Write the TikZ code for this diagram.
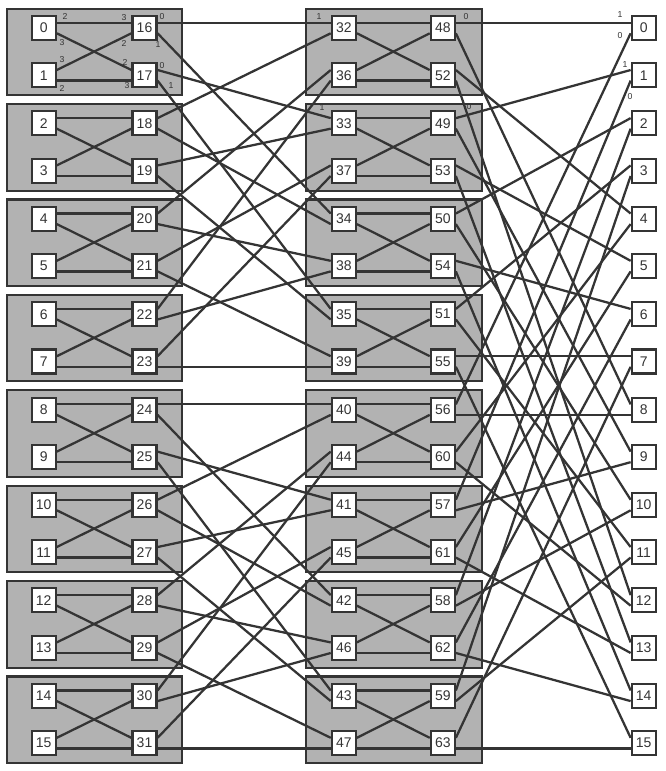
\documentclass[tikz,border=0pt]{standalone}
\usepackage{fontspec}
\setmainfont{Liberation Sans}
\definecolor{ink}{RGB}{52,52,52}
\definecolor{shade}{RGB}{178,178,178}
\begin{document}
\begin{tikzpicture}[x=0.75pt,y=-0.75pt,
  nd/.style={draw=ink, line width=1.6pt, fill=white, minimum size=18pt, inner sep=0pt, text=ink, font=\fontsize{10.5}{12}\selectfont},
  grp/.style={draw=ink, line width=1.6pt, fill=shade},
  wire/.style={draw=ink, line width=1.7pt},
  pl/.style={font=\fontsize{6.5}{7}\selectfont, text=ink, inner sep=0pt}]
\fill[white] (0,0) rectangle (665,771);
\useasboundingbox (0,0) rectangle (665,771);

% gray groups
\foreach \k in {0,...,7} {
  \pgfmathsetmacro\topy{8.7+95.4*\k}
  \pgfmathsetmacro\boty{\topy+86.5}
  \draw[grp] (6.7,\topy) rectangle (181.7,\boty);
  \draw[grp] (306,\topy) rectangle (482,\boty);
}

% nodes
\foreach \r in {0,...,15} {
  \pgfmathsetmacro\yy{28+95.4*floor(\r/2)+47.3*mod(\r,2)}
  \pgfmathtruncatemacro\s{16+\r}
  \pgfmathtruncatemacro\kk{floor(\r/2)}
  \pgfmathtruncatemacro\m{32+8*floor(\kk/4)+mod(\kk,4)+4*mod(\r,2)}
  \pgfmathtruncatemacro\mm{\m+16}
  \node[nd] (t\r) at (43.7,\yy) {\r};
  \node[nd] (n\s) at (144.5,\yy) {\s};
  \node[nd] (n\m) at (343.8,\yy) {\m};
  \node[nd] (n\mm) at (442.8,\yy) {\mm};
  \node[nd] (o\r) at (643.7,\yy) {\r};
}

% stage 0: terminals to first switches
\foreach \k in {0,...,7} {
  \pgfmathtruncatemacro\a{2*\k}
  \pgfmathtruncatemacro\b{2*\k+1}
  \pgfmathtruncatemacro\c{16+2*\k}
  \pgfmathtruncatemacro\d{17+2*\k}
  \draw[wire] (t\a.22) -- (n\c.158);
  \draw[wire] (t\a.-22) -- (n\d.158);
  \draw[wire] (t\b.22) -- (n\c.202);
  \draw[wire] (t\b.-22) -- (n\d.202);
}
% stage 1: first switches to middle
\foreach \i in {0,...,15} {
  \pgfmathtruncatemacro\s{16+\i}
  \pgfmathtruncatemacro\bit{mod(floor(\i/2),2)}
  \pgfmathtruncatemacro\a{32+\i-2*\bit}
  \pgfmathtruncatemacro\c{\a+2}
  \pgfmathtruncatemacro\dp{ifthenelse(\bit==0,158,202)}
  \draw[wire] (n\s.22) -- (n\a.\dp);
  \draw[wire] (n\s.-22) -- (n\c.\dp);
}
% stage 2: inside middle groups
\foreach \k in {0,...,7} {
  \pgfmathtruncatemacro\tl{32+8*floor(\k/4)+mod(\k,4)}
  \pgfmathtruncatemacro\bl{\tl+4}
  \pgfmathtruncatemacro\tr{\tl+16}
  \pgfmathtruncatemacro\br{\tl+20}
  \draw[wire] (n\tl.22) -- (n\tr.158);
  \draw[wire] (n\tl.-22) -- (n\br.158);
  \draw[wire] (n\bl.22) -- (n\tr.202);
  \draw[wire] (n\bl.-22) -- (n\br.202);
}
% stage 3: middle to outputs
\foreach \j in {0,...,15} {
  \pgfmathtruncatemacro\s{48+\j}
  \pgfmathtruncatemacro\lo{mod(\j,8)}
  \pgfmathtruncatemacro\hi{\lo+8}
  \pgfmathtruncatemacro\dp{ifthenelse(\j<8,158,202)}
  \draw[wire] (n\s.22) -- (o\lo.\dp);
  \draw[wire] (n\s.-22) -- (o\hi.\dp);
}

% port labels
\node[pl] (p1) at (65,16) {2};
\node[pl] (p2) at (62,43) {3};
\node[pl] (p3) at (62,60) {3};
\node[pl] (p4) at (62,88) {2};
\node[pl] (p5) at (124,18) {3};
\node[pl] (p6) at (162,17) {0};
\node[pl] (p7) at (124,43) {2};
\node[pl] (p8) at (158,45) {1};
\node[pl] (p9) at (125,62) {2};
\node[pl] (p10) at (162,66) {0};
\node[pl] (p11) at (127,86) {3};
\node[pl] (p12) at (171,86) {1};
\node[pl] (p13) at (319,17) {1};
\node[pl] (p14) at (466,17) {0};
\node[pl] (p15) at (322,108) {1};
\node[pl] (p16) at (469,107) {0};
\node[pl] (p17) at (620,15) {1};
\node[pl] (p18) at (620,36) {0};
\node[pl] (p19) at (625,65) {1};
\node[pl] (p20) at (630,97) {0};
\end{tikzpicture}
\end{document}
